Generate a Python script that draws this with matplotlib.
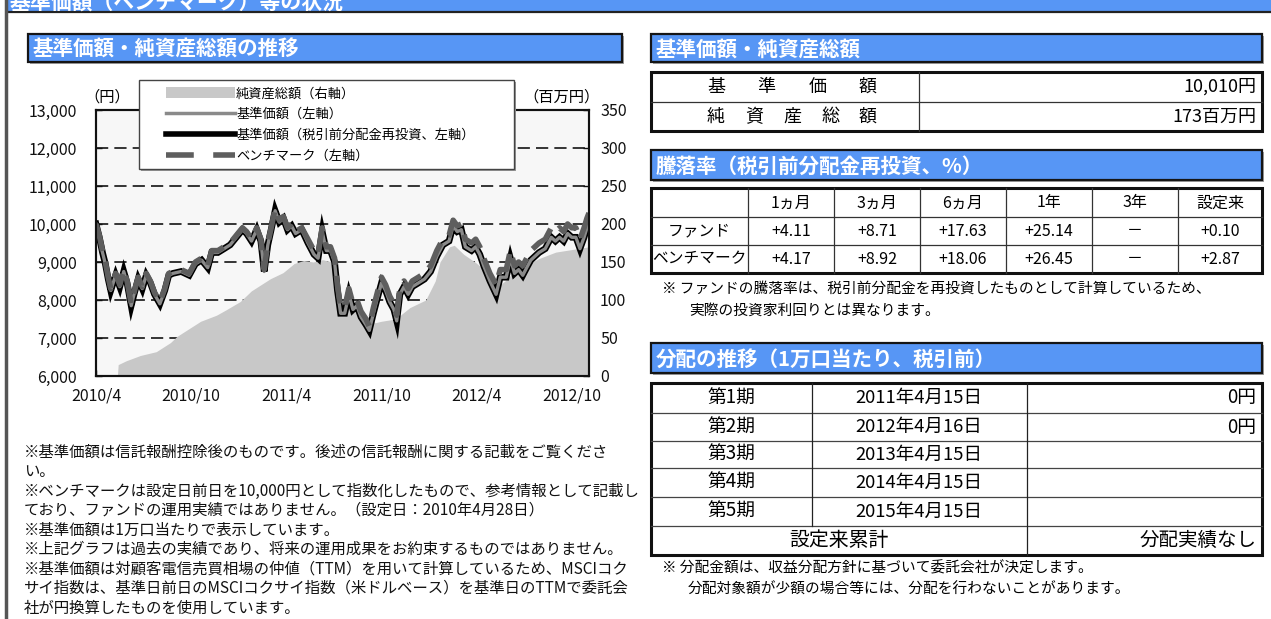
import numpy as np
import matplotlib
matplotlib.use("Agg")
import matplotlib.pyplot as plt
from matplotlib.patches import Rectangle, Patch
from matplotlib.lines import Line2D
from matplotlib.ticker import FuncFormatter
from matplotlib.transforms import Affine2D

plt.rcParams['font.family'] = ['Noto Sans CJK JP', 'DejaVu Sans']

W, H = 1271, 619
BLUE = '#5796f5'

# months since launch (2010/4/28)
months = [0.0, 0.21, 0.41, 0.59, 0.77, 0.93, 1.24, 1.50, 1.75, 1.96,
          2.22, 2.40, 2.66, 2.92, 3.17, 3.43, 3.69, 4.03, 4.34, 4.59,
          4.85, 5.37, 5.88, 6.27, 6.66, 7.05, 7.30, 7.69, 8.08, 8.46,
          8.85, 9.24, 9.50, 9.81, 10.14, 10.40, 10.61, 10.84, 11.05, 11.30,
          11.56, 11.82, 12.08, 12.34, 12.59, 12.98, 13.37, 13.75, 14.01, 14.27,
          14.53, 14.79, 15.05, 15.23, 15.43, 15.69, 15.95, 16.21, 16.46, 16.72,
          17.03, 17.24, 17.50, 17.75, 18.01, 18.27, 18.53, 18.79, 18.97, 19.17,
          19.43, 19.69, 19.95, 20.34, 20.72, 21.11, 21.50, 21.88, 22.27, 22.53,
          22.79, 23.05, 23.30, 23.69, 23.95, 24.21, 24.46, 24.85, 25.24, 25.50,
          25.88, 26.14, 26.40, 26.66, 26.92, 27.17, 27.43, 27.69, 27.95, 28.34,
          28.72, 28.98, 29.24, 29.50, 29.75, 30.01, 30.27, 30.53, 30.79, 30.97,
          31.10]

benchmark = [10000, 9700, 9300, 9000, 8600, 8300, 8700, 8400, 8800, 8500,
             7900, 8200, 8600, 8350, 8700, 8500, 8200, 7950, 8300, 8700,
             8750, 8800, 8700, 9000, 9100, 8900, 9300, 9300, 9400, 9500,
             9700, 9900, 9800, 9600, 9900, 9600, 8800, 9500, 9900, 10400,
             10100, 10200, 9900, 10000, 9800, 9900, 9600, 9300, 9200, 9900,
             9400, 9400, 9100, 8400, 7800, 7800, 8300, 7900, 8000, 7700,
             7500, 7300, 7800, 8200, 8600, 8400, 8100, 7900, 7600, 8300,
             8500, 8300, 8500, 8600, 8700, 8900, 9300, 9600, 9700, 10100,
             9950, 10000, 9600, 9500, 9600, 9400, 9100, 8700, 8400, 8800,
             8800, 9300, 8900, 9000, 8900, 9100, 9300, 9400, 9500, 9600,
             9900, 9800, 9900, 9800, 10000, 9900, 9900, 9600, 9900, 10150,
             10290]

# fund NAV, distribution reinvested (no distributions paid, so same as NAV)
fund = [10000, 9650, 9250, 8950, 8550, 8250, 8650, 8350, 8750, 8450,
        7850, 8150, 8550, 8300, 8650, 8450, 8150, 7900, 8250, 8650,
        8700, 8750, 8650, 8950, 9050, 8850, 9250, 9250, 9350, 9450,
        9650, 9850, 9750, 9550, 9850, 9550, 8750, 9450, 9850, 10350,
        10050, 10150, 9850, 9950, 9750, 9850, 9500, 9200, 9100, 9800,
        9300, 9300, 9000, 8250, 7650, 7650, 8150, 7750, 7850, 7550,
        7350, 7200, 7650, 8050, 8450, 8250, 7950, 7750, 7450, 8150,
        8350, 8150, 8350, 8450, 8550, 8750, 9150, 9450, 9550, 9950,
        9800, 9850, 9400, 9300, 9400, 9200, 8900, 8500, 8150, 8600,
        8600, 9100, 8700, 8800, 8650, 8850, 9050, 9150, 9250, 9350,
        9650, 9550, 9650, 9550, 9750, 9650, 9650, 9350, 9650, 9900,
        10010]
nav = fund

# net assets (million yen)
na_months = [1.35, 1.4, 1.9, 2.8, 3.8, 4.7, 5.1, 6.0, 6.6, 7.6,
             8.2, 9.1, 9.8, 10.4, 11.0, 11.8, 12.5, 13.1, 13.7, 14.3,
             14.9, 15.2, 15.5, 15.8, 16.4, 17.0, 17.6, 18.0, 18.9, 19.8,
             20.8, 21.4, 21.7, 22.3, 22.6, 23.2, 23.9, 24.5, 25.2, 25.8,
             26.5, 27.0, 28.0, 29.0, 29.9, 30.5, 31.1]
net_assets = [0, 15, 20, 27, 32, 44, 52, 64, 72, 80,
              87, 98, 112, 120, 128, 136, 148, 152, 150, 153,
              150, 145, 95, 92, 90, 80, 70, 72, 75, 90,
              100, 125, 150, 170, 172, 160, 150, 140, 115, 125,
              140, 145, 155, 163, 166, 168, 170]

xtick_pos = [0, 6, 12, 18, 24, 30]
xtick_labels = ['2010/4', '2010/10', '2011/4', '2011/10', '2012/4', '2012/10']

legend_labels = ['純資産総額（右軸）', '基準価額（左軸）',
                 '基準価額（税引前分配金再投資、左軸）', 'ベンチマーク（左軸）']

nav_now = '10,010円'
assets_now = '173百万円'

ret_headers = ['1ヵ月', '3ヵ月', '6ヵ月', '1年', '3年', '設定来']
ret_rows = ['ファンド', 'ベンチマーク']
fund_returns = [4.11, 8.71, 17.63, 25.14, None, 0.10]
bench_returns = [4.17, 8.92, 18.06, 26.45, None, 2.87]

dist_periods = ['第1期', '第2期', '第3期', '第4期', '第5期']
dist_dates = ['2011年4月15日', '2012年4月16日', '2013年4月15日', '2014年4月15日', '2015年4月15日']
dist_yen = [0, 0, None, None, None]

left_notes = [
    '※基準価額は信託報酬控除後のものです。後述の信託報酬に関する記載をご覧くださ',
    'い。',
    '※ベンチマークは設定日前日を10,000円として指数化したもので、参考情報として記載し',
    'ており、ファンドの運用実績ではありません。（設定日：2010年4月28日）',
    '※基準価額は1万口当たりで表示しています。',
    '※上記グラフは過去の実績であり、将来の運用成果をお約束するものではありません。',
    '※基準価額は対顧客電信売買相場の仲値（TTM）を用いて計算しているため、MSCIコク',
    'サイ指数は、基準日前日のMSCIコクサイ指数（米ドルベース）を基準日のTTMで委託会',
    '社が円換算したものを使用しています。',
]

fig = plt.figure(figsize=(W / 100, H / 100), dpi=100)
fig.patch.set_facecolor('white')
px = Affine2D().scale(1 / W, -1 / H).translate(0, 1) + fig.transFigure

ov = fig.add_axes([0, 0, 1, 1])
ov.set_xlim(0, W)
ov.set_ylim(H, 0)
ov.axis('off')


def banner(x0, y0, x1, y1, text, fs=14.8):
    ov.add_patch(Rectangle((x0 + 2, y0 + 2), x1 - x0, y1 - y0, fc='#a0a0a0', ec='none'))
    ov.add_patch(Rectangle((x0, y0), x1 - x0, y1 - y0, fc=BLUE, ec='#151515', lw=1.6))
    ov.text(x0 + 5, (y0 + y1) / 2 + 1, text, color='white', fontsize=fs,
            fontweight='bold', va='center', ha='left')


def frame(x0, y0, x1, y1):
    ov.add_patch(Rectangle((x0 + 2, y0 + 2), x1 - x0, y1 - y0, fc='#a0a0a0', ec='none'))
    ov.add_patch(Rectangle((x0, y0), x1 - x0, y1 - y0, fc='white', ec='#111111', lw=2.2))


# page header (cut off at the top edge, as on the page)
ov.add_patch(Rectangle((7, -5), W, 16, fc=BLUE, ec='none'))
ov.plot([7, W], [12, 12], color='#222222', lw=1.6)
ov.text(10, 2, '基準価額（ベンチマーク）等の状況', color='white', fontsize=15,
        fontweight='bold', va='center', ha='left')
ov.plot([6, 6], [0, H], color='#555555', lw=2.5)

# left section
banner(28, 34, 622, 62, '基準価額・純資産総額の推移')
ov.text(107, 97, '（円）', fontsize=11, ha='center', va='center')
ov.text(561, 97, '（百万円）', fontsize=11, ha='center', va='center')
for i, line in enumerate(left_notes):
    ov.text(24, 452 + 19.5 * i, line, fontsize=11.1, ha='left', va='center', color='#111111')

# right: NAV / net assets
banner(651, 34, 1262, 62, '基準価額・純資産総額')
frame(651, 72, 1262, 131)
ov.plot([651, 1262], [102, 102], color='#333333', lw=0.9)
ov.plot([919, 919], [72, 131], color='#333333', lw=0.9)
for ch, x in zip('基準価額', np.linspace(716, 868, 4)):
    ov.text(x, 87, ch, fontsize=13, ha='center', va='center')
for ch, x in zip('純資産総額', np.linspace(716, 868, 5)):
    ov.text(x, 117, ch, fontsize=13, ha='center', va='center')
ov.text(1256, 87, nav_now, fontsize=13, ha='right', va='center')
ov.text(1256, 117, assets_now, fontsize=13, ha='right', va='center')

# right: returns
banner(651, 150, 1262, 180, '騰落率（税引前分配金再投資、%）')
frame(651, 188, 1262, 273)
col_x = [651, 748, 834, 920, 1006, 1092, 1178, 1262]
row_y = [188, 217, 245, 273]
for y in row_y[1:-1]:
    ov.plot([651, 1262], [y, y], color='#333333', lw=0.9)
for x in col_x[1:-1]:
    ov.plot([x, x], [188, 273], color='#333333', lw=0.9)
for j, h in enumerate(ret_headers):
    ov.text((col_x[j + 1] + col_x[j + 2]) / 2, 203, h, fontsize=11.5, ha='center', va='center')
for i, (name, vals) in enumerate(zip(ret_rows, [fund_returns, bench_returns])):
    yc = (row_y[i + 1] + row_y[i + 2]) / 2
    ov.text((col_x[0] + col_x[1]) / 2, yc, name, fontsize=11.3, ha='center', va='center')
    for j, v in enumerate(vals):
        s = '－' if v is None else f'{v:+.2f}'
        ov.text((col_x[j + 1] + col_x[j + 2]) / 2, yc, s, fontsize=11.5, ha='center', va='center')
ov.text(662, 289, '※ ファンドの騰落率は、税引前分配金を再投資したものとして計算しているため、',
        fontsize=10.6, ha='left', va='center')
ov.text(689, 311, '実際の投資家利回りとは異なります。', fontsize=10.6, ha='left', va='center')

# right: distributions
banner(651, 343, 1262, 373, '分配の推移（1万口当たり、税引前）')
frame(651, 383, 1262, 555)
d_rows = [383, 413, 441, 468, 497, 526, 555]
for y in d_rows[1:-1]:
    ov.plot([651, 1262], [y, y], color='#444444', lw=0.9)
ov.plot([812, 812], [383, 526], color='#222222', lw=0.9)
ov.plot([1027, 1027], [383, 555], color='#222222', lw=0.9)
for i, (p, d, v) in enumerate(zip(dist_periods, dist_dates, dist_yen)):
    yc = (d_rows[i] + d_rows[i + 1]) / 2
    ov.text(731, yc, p, fontsize=13.5, ha='center', va='center')
    ov.text(919, yc, d, fontsize=13.3, ha='center', va='center')
    if v is not None:
        ov.text(1256, yc, f'{v}円', fontsize=13.5, ha='right', va='center')
ov.text(839, 540, '設定来累計', fontsize=14.3, ha='center', va='center')
ov.text(1257, 540, '分配実績なし', fontsize=14, ha='right', va='center')
ov.text(662, 568, '※ 分配金額は、収益分配方針に基づいて委託会社が決定します。',
        fontsize=10.6, ha='left', va='center')
ov.text(688, 590, '分配対象額が少額の場合等には、分配を行わないことがあります。',
        fontsize=10.6, ha='left', va='center')

# chart
rect = [96 / W, 1 - 376 / H, (589 - 96) / W, (376 - 110) / H]
ax_na = fig.add_axes(rect)
ax_na.set_facecolor('#f7f7f7')
ax_na.fill_between(na_months, net_assets, 0, color='#c8c8c8', lw=0, zorder=1)
ax_na.set_ylim(0, 350)
ax_na.set_yticks(range(0, 351, 50))
ax_na.yaxis.tick_right()
ax_na.set_axisbelow(True)
ax_na.yaxis.grid(True, color='black', lw=1.1, linestyle=(0, (8, 4)))
ax_na.set_xlim(0, 31.1)
ax_na.set_xticks(xtick_pos)
ax_na.set_xticklabels(xtick_labels)

ax_px = fig.add_axes(rect, sharex=ax_na)
ax_px.patch.set_visible(False)
ax_px.plot(months, fund, color='black', lw=4.8, solid_joinstyle='miter')
ax_px.plot(months, nav, color='#8a8a8a', lw=2.4)
ax_px.plot(months, benchmark, color='#5e5e5e', lw=4.0, dashes=(5, 2))
ax_px.set_ylim(6000, 13000)
ax_px.set_yticks(range(6000, 13001, 1000))
ax_px.yaxis.set_major_formatter(FuncFormatter(lambda v, p: f'{v:,.0f}'))
ax_px.tick_params(axis='x', labelbottom=False, bottom=False)

for a in (ax_na, ax_px):
    for s in a.spines.values():
        s.set_linewidth(1.5)
        s.set_color('#111111')
    a.tick_params(direction='in', length=4, width=1, labelsize=11.5, colors='#111111')
ax_na.tick_params(axis='x', pad=8)
ax_na.tick_params(axis='y', pad=8)
ax_px.tick_params(axis='y', pad=14)

# legend
ax_px.add_patch(Rectangle((141, 82), 375, 89, transform=px, fc='#999999', ec='none',
                          clip_on=False, zorder=5))
ax_px.add_patch(Rectangle((139, 80), 375, 89, transform=px, fc='white', ec='#444444',
                          lw=1.0, clip_on=False, zorder=5.1))
handles = [Patch(fc='#c8c8c8', ec='none'),
           Line2D([], [], color='#8a8a8a', lw=2.5),
           Line2D([], [], color='black', lw=4),
           Line2D([], [], color='#5e5e5e', lw=4, dashes=(5, 3.5))]
leg = ax_px.legend(handles, legend_labels, loc='upper left',
                   bbox_to_anchor=(157 / W, 1 - 78 / H), bbox_transform=fig.transFigure,
                   frameon=False, fontsize=9.5, handlelength=5.2, handleheight=0.9,
                   handletextpad=0.1, labelspacing=0.6, borderpad=0.2)
leg.set_zorder(6)

fig.savefig('out.png', dpi=100)
